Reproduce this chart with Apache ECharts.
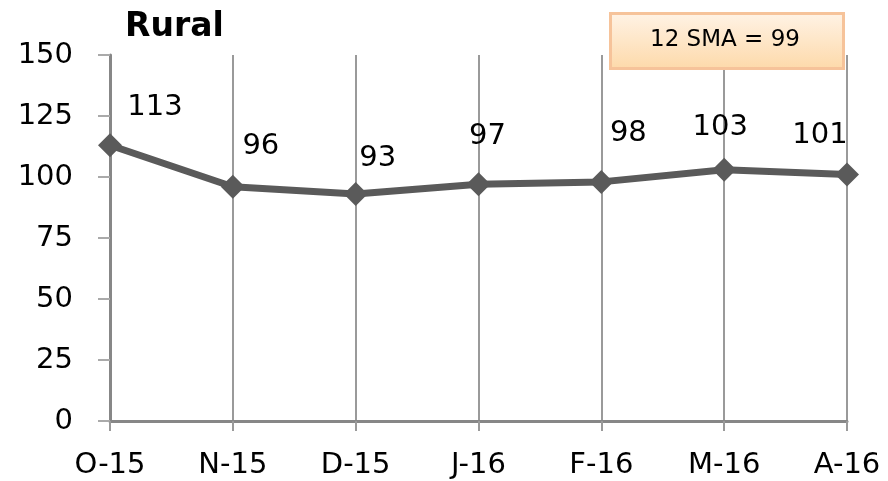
<!DOCTYPE html>
<html>
<head>
<meta charset="utf-8">
<script src="https://cdn.jsdelivr.net/npm/echarts@6/dist/echarts.min.js"></script>
<style>
  html, body { margin: 0; padding: 0; background: #fff; }
  #chart { width: 888px; height: 481px; }
</style>
</head>
<body>
<div id="chart"></div>
<script>
// data
const months = ['O-15', 'N-15', 'D-15', 'J-16', 'F-16', 'M-16', 'A-16'];
const rural = [113, 96, 93, 97, 98, 103, 101];
const smaText = '12 SMA = 99';

// where each value label sits relative to its point (px)
const labelOffsets = [[45, -38], [28, -40], [22, -36], [9, -48], [27, -48], [-4, -42], [-27, -39]];

const font = 'DejaVu Sans';
const axisGray = '#878787';

const myChart = echarts.init(document.getElementById('chart'));

const option = {
    animation: false,
    textStyle: { fontFamily: font },
    title: {
        text: 'Rural',
        left: 120,
        top: 6,
        textStyle: { fontFamily: font, fontSize: 33, fontWeight: 'bold', color: '#000' }
    },
    grid: { left: 110, right: 41, top: 55, bottom: 60 },
    xAxis: {
        type: 'category',
        data: months,
        boundaryGap: false,
        axisLine: { lineStyle: { color: axisGray, width: 3 } },
        axisTick: { show: true, length: 10, lineStyle: { color: '#9a9a9a', width: 2 } },
        splitLine: { show: true, lineStyle: { color: '#9a9a9a', width: 2 } },
        axisLabel: { margin: 30, fontSize: 29, color: '#000', fontFamily: font }
    },
    yAxis: {
        type: 'value',
        min: 0,
        max: 150,
        interval: 25,
        axisLine: { show: true, lineStyle: { color: axisGray, width: 3 } },
        axisTick: { show: true, length: 12, lineStyle: { color: '#aaaaaa', width: 2 } },
        splitLine: { show: false },
        axisLabel: { margin: 37, fontSize: 29, color: '#000', fontFamily: font }
    },
    graphic: [{
        type: 'rect',
        left: 609,
        top: 12,
        shape: { width: 233, height: 55 },
        style: {
            fill: new echarts.graphic.LinearGradient(0, 0, 0, 1, [
                { offset: 0, color: '#fff3e6' },
                { offset: 1, color: '#fdd9a9' }
            ]),
            stroke: '#f6c39a',
            lineWidth: 3
        },
        z: 10
    }, {
        type: 'text',
        x: 725,
        y: 40,
        style: {
            text: smaText,
            fontFamily: font,
            fontSize: 23,
            fill: '#000',
            align: 'center',
            verticalAlign: 'middle'
        },
        z: 11
    }],
    series: [{
        name: 'Rural',
        type: 'line',
        data: rural.map((v, i) => ({
            value: v,
            label: { offset: labelOffsets[i] }
        })),
        symbol: 'diamond',
        symbolSize: 24,
        lineStyle: { color: '#5a5a5a', width: 7 },
        itemStyle: { color: '#5a5a5a' },
        label: {
            show: true,
            position: 'inside',
            fontSize: 29,
            color: '#000',
            fontFamily: font
        }
    }]
};

myChart.setOption(option);
</script>
</body>
</html>
